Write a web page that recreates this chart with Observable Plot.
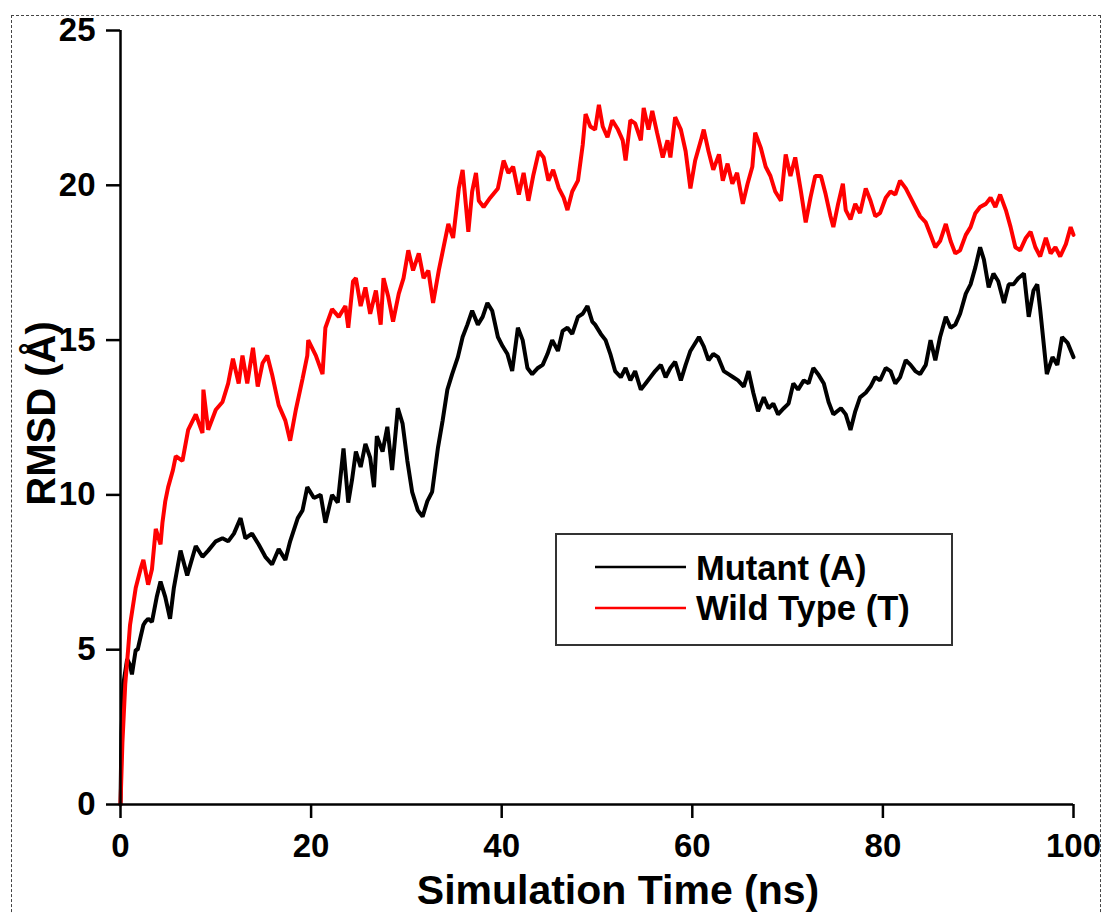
<!DOCTYPE html>
<html>
<head>
<meta charset="utf-8">
<script src="https://cdn.jsdelivr.net/npm/d3@7"></script>
<script src="https://cdn.jsdelivr.net/npm/@observablehq/plot@0.6"></script>
<style>
  body { margin: 0; background: #fff; font-family: "Liberation Sans", Arial, sans-serif; }
  #wrap { position: relative; width: 1103px; height: 914px; overflow: hidden; background: #fff; }
  #wrap > svg { position: absolute; left: 0; top: 0; }
  #border { position: absolute; left: 11px; top: 15px; width: 1088px; height: 960px; border: 1px dashed #444; pointer-events: none; }
</style>
</head>
<body>
<div id="wrap"></div>
<script>
// ---- Data ----
const xTicks = [0, 20, 40, 60, 80, 100];
const yTicks = [0, 5, 10, 15, 20, 25];
const seriesNames = ["Mutant (A)", "Wild Type (T)"];
const seriesColors = ["#000000", "#ff0000"];

const mutantTime = [0,0.1,0.3,0.7,1.0,1.2,1.6,1.8,2.1,2.4,2.6,2.9,3.3,3.8,4.2,4.7,5.2,5.6,6.3,7.0,7.9,8.6,9.2,10.0,10.7,11.3,11.9,12.6,13.1,13.8,14.5,15.2,15.9,16.6,17.3,17.8,18.6,19.1,19.6,20.3,21.0,21.5,22.2,22.8,23.4,23.9,24.3,24.7,25.2,25.7,26.2,26.6,26.9,27.5,28.0,28.5,29.1,29.6,30.1,30.6,31.2,31.7,32.2,32.7,33.3,33.8,34.3,34.8,35.4,35.9,36.4,36.9,37.5,38.0,38.5,39.0,39.6,40.1,40.6,41.1,41.7,42.2,42.7,43.2,43.8,44.3,44.8,45.3,45.9,46.4,46.9,47.4,48.0,48.5,49.0,49.5,49.8,50.4,50.9,51.4,51.9,52.5,53.0,53.5,54.0,54.6,55.1,55.6,56.1,56.7,57.2,57.7,58.2,58.8,59.3,59.8,60.3,60.7,61.2,61.7,62.2,62.7,63.3,63.8,64.3,64.8,65.4,65.9,66.4,66.9,67.5,68.0,68.5,69.0,69.6,70.1,70.6,71.1,71.7,72.2,72.7,73.2,73.8,74.3,74.8,75.6,76.1,76.6,77.1,77.6,78.2,78.7,79.2,79.7,80.3,80.8,81.3,81.8,82.4,82.9,83.4,83.9,84.5,85.0,85.5,86.0,86.6,87.1,87.6,88.1,88.7,89.2,89.7,90.2,90.6,91.1,91.6,92.1,92.7,93.2,93.7,94.2,94.8,95.3,95.8,96.2,96.5,96.9,97.2,97.8,98.3,98.8,99.4,100];
const mutantRmsd = [0,2.3,3.9,4.7,4.5,4.2,5.0,5.0,5.4,5.8,5.9,6.0,5.9,6.7,7.2,6.7,6.0,7.0,8.2,7.4,8.35,8.0,8.2,8.5,8.6,8.5,8.75,9.25,8.6,8.75,8.4,8.0,7.75,8.25,7.9,8.5,9.25,9.5,10.25,9.9,10.0,9.1,10.0,9.75,11.5,9.75,10.5,11.4,10.9,11.65,11.2,10.25,11.9,11.4,12.2,10.8,12.8,12.3,11.1,10.1,9.5,9.3,9.8,10.1,11.5,12.4,13.4,13.9,14.45,15.1,15.5,15.95,15.5,15.75,16.2,15.95,15.1,14.8,14.55,14.0,15.4,15.0,14.1,13.9,14.1,14.2,14.55,15.0,14.65,15.3,15.4,15.2,15.75,15.85,16.1,15.6,15.5,15.2,15.0,14.55,14.0,13.8,14.1,13.7,14.0,13.4,13.6,13.8,14.0,14.2,13.8,14.1,14.3,13.7,14.2,14.65,14.9,15.1,14.8,14.35,14.55,14.45,14.0,13.9,13.8,13.7,13.5,14.0,13.3,12.7,13.15,12.8,12.95,12.6,12.8,12.95,13.6,13.4,13.7,13.6,14.1,13.9,13.6,13.0,12.6,12.8,12.6,12.1,12.7,13.15,13.3,13.5,13.8,13.7,14.1,14.0,13.6,13.8,14.35,14.2,14.0,13.9,14.2,15.0,14.35,15.1,15.75,15.4,15.5,15.85,16.5,16.8,17.35,18.0,17.6,16.7,17.15,16.9,16.2,16.8,16.8,17.0,17.15,15.75,16.6,16.8,16.0,14.8,13.9,14.45,14.2,15.1,14.9,14.45];

const wildTime = [0,0.2,0.5,0.8,1.0,1.6,2.1,2.4,2.9,3.3,3.7,4.2,4.4,4.7,5.0,5.5,5.8,6.5,7.1,7.9,8.6,8.7,9.2,10.0,10.7,11.3,11.8,12.4,12.8,13.3,13.9,14.4,14.9,15.4,15.9,16.6,17.3,17.8,18.4,19.1,19.6,19.7,20.5,21.2,21.5,22.2,22.9,23.6,23.9,24.4,24.7,25.2,25.7,26.2,26.8,27.3,27.6,28.1,28.6,29.2,29.7,30.2,30.7,31.3,31.8,32.3,32.8,33.4,33.9,34.4,34.9,35.5,35.9,36.2,36.5,36.9,37.3,37.6,38.1,38.8,39.6,40.2,40.7,41.2,41.8,42.3,42.8,43.3,43.9,44.4,44.9,45.4,46.0,46.5,46.9,47.4,48.0,48.5,48.8,49.3,49.8,50.2,50.6,51.1,51.6,52.2,52.7,53.0,53.5,54.0,54.6,54.9,55.4,55.8,56.3,56.9,57.4,57.7,58.2,58.8,59.3,59.8,60.3,60.9,61.2,61.7,62.2,62.8,63.2,63.7,64.2,64.7,65.3,65.8,66.3,66.6,67.2,67.7,68.2,68.7,69.3,69.8,70.3,70.8,71.4,71.9,72.4,72.9,73.5,74.0,74.5,74.8,75.3,75.8,76.1,76.6,77.1,77.6,78.2,78.7,79.2,79.7,80.3,80.8,81.3,81.8,82.4,82.9,83.4,83.9,84.5,85.0,85.5,86.0,86.6,87.1,87.6,88.1,88.7,89.2,89.7,90.2,90.8,91.3,91.8,92.3,92.9,93.4,93.9,94.4,95.0,95.5,96.0,96.5,97.1,97.6,98.1,98.6,99.2,99.7,100];
const wildRmsd = [0,2.0,3.9,5.0,5.8,7.0,7.6,7.9,7.1,7.6,8.9,8.4,9.1,9.8,10.25,10.8,11.25,11.1,12.1,12.6,12.0,13.4,12.1,12.75,13.0,13.6,14.4,13.6,14.5,13.6,14.75,13.5,14.25,14.5,13.9,12.9,12.4,11.75,12.75,13.75,14.5,15.0,14.5,13.9,15.4,16.0,15.75,16.1,15.4,16.9,17.0,16.1,16.7,15.85,16.6,15.5,17.0,16.4,15.6,16.5,17.0,17.9,17.25,17.8,17.0,17.25,16.2,17.25,18.0,18.75,18.3,19.9,20.5,19.5,18.5,19.8,20.4,19.5,19.3,19.6,19.9,20.8,20.4,20.6,19.7,20.4,19.5,20.3,21.1,20.9,20.15,20.5,19.9,19.6,19.2,19.8,20.15,21.3,22.3,21.9,21.8,22.6,21.9,21.55,22.1,21.8,21.45,20.8,22.1,22.0,21.45,22.5,21.8,22.4,21.7,20.9,21.45,20.9,22.2,21.8,21.1,19.9,20.8,21.45,21.8,21.1,20.5,21.0,20.15,20.7,20.05,20.4,19.4,20.05,20.6,21.7,21.2,20.6,20.3,19.8,19.5,21.0,20.3,20.9,19.8,18.8,19.6,20.3,20.3,19.7,19.0,18.65,19.4,20.05,19.2,18.9,19.4,19.1,19.9,19.5,19.0,19.1,19.6,19.8,19.7,20.15,19.9,19.6,19.3,19.0,18.8,18.4,18.0,18.2,18.75,18.2,17.8,17.9,18.4,18.65,19.1,19.3,19.4,19.6,19.3,19.7,19.2,18.65,18.0,17.9,18.3,18.5,18.0,17.7,18.3,17.8,18.0,17.7,18.1,18.65,18.4];

const xLabel = "Simulation Time (ns)";
const yLabel = "RMSD (Å)";

// ---- Build tables ----
const mutant = mutantTime.map((t, i) => ({t, v: mutantRmsd[i]}));
const wild = wildTime.map((t, i) => ({t, v: wildRmsd[i]}));

const FONT = "Liberation Sans, Arial, Helvetica, sans-serif";

const chart = Plot.plot({
  width: 1103,
  height: 914,
  marginLeft: 120,
  marginRight: 30,
  marginTop: 30,
  marginBottom: 110,
  x: {domain: [0, 100]},
  y: {domain: [0, 25]},
  style: {fontFamily: FONT, fontWeight: "bold", fontSize: "33px", color: "#000", background: "transparent", overflow: "visible"},
  marks: [
    Plot.line(mutant, {x: "t", y: "v", stroke: seriesColors[0], strokeWidth: 4, strokeLinejoin: "miter"}),
    Plot.line(wild, {x: "t", y: "v", stroke: seriesColors[1], strokeWidth: 4, strokeLinejoin: "miter"}),
    Plot.axisX({ticks: xTicks, tickSize: 14, tickPadding: 15, strokeWidth: 2.5, fontSize: 33, fontWeight: "bold", label: null}),
    Plot.axisY({ticks: yTicks, tickSize: 14, tickPadding: 11, strokeWidth: 2.5, fontSize: 33, fontWeight: "bold", label: null}),
    Plot.ruleX([0], {strokeWidth: 2.5}),
    Plot.ruleY([0], {strokeWidth: 2.5}),
    Plot.text([xLabel], {text: d => d, frameAnchor: "bottom", textAnchor: "middle", dx: 21, dy: 99, lineAnchor: "bottom", fontSize: 41, fontWeight: "bold"}),
    Plot.text([yLabel], {text: d => d, frameAnchor: "left", textAnchor: "middle", dx: -66, dy: -4, rotate: -90, lineAnchor: "bottom", fontSize: 40, fontWeight: "bold"})
  ]
});

const wrap = document.getElementById("wrap");
wrap.appendChild(chart);

// ---- Legend (overlay inside the plot area) ----
const leg = d3.select(wrap).append("svg")
  .attr("width", 1103).attr("height", 914)
  .style("position", "absolute").style("left", "0px").style("top", "0px")
  .style("pointer-events", "none");
const lg = leg.append("g").attr("transform", "translate(555,533)");
lg.append("rect").attr("x", 1).attr("y", 1).attr("width", 396).attr("height", 111)
  .attr("fill", "#fff").attr("stroke", "#333").attr("stroke-width", 2);
seriesNames.forEach((name, i) => {
  const yLine = 34 + i * 41;
  lg.append("line").attr("x1", 40).attr("x2", 131).attr("y1", yLine).attr("y2", yLine)
    .attr("stroke", seriesColors[i]).attr("stroke-width", 2.5);
  lg.append("text").attr("x", 141).attr("y", 47 + i * 40)
    .attr("font-family", FONT).attr("font-weight", "bold").attr("font-size", 34.5)
    .attr("fill", "#000").text(name);
});

const border = document.createElement("div");
border.id = "border";
wrap.appendChild(border);
</script>
</body>
</html>
